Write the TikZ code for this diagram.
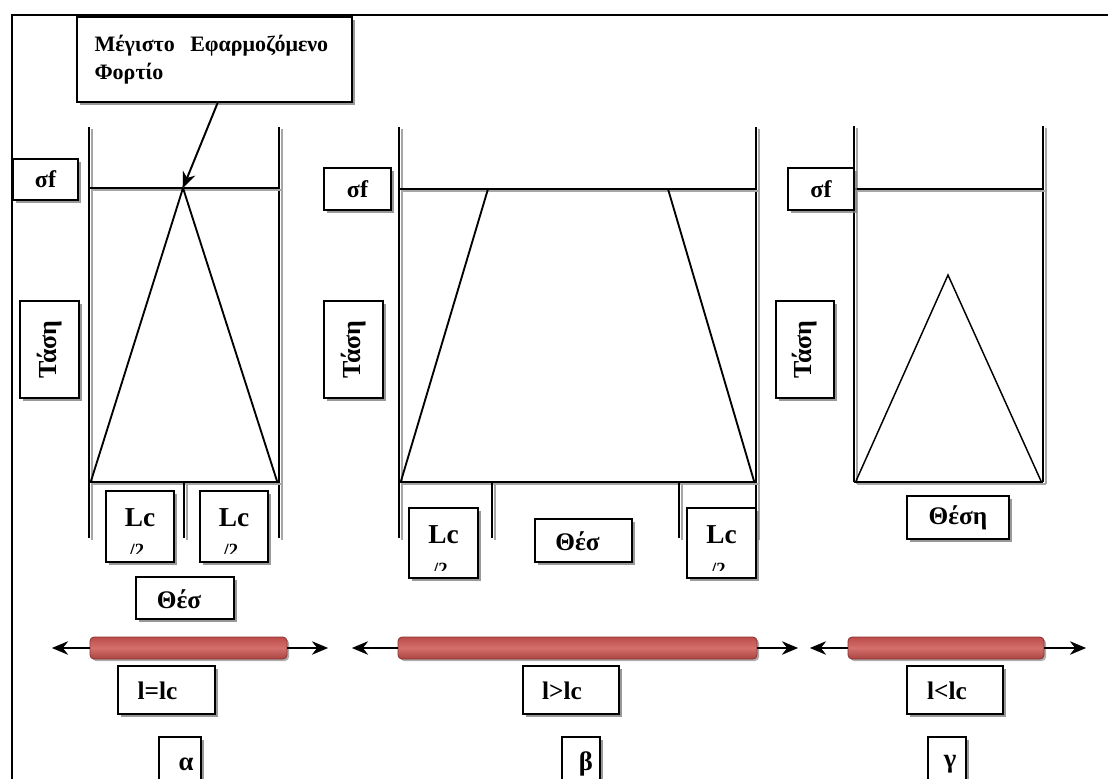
\documentclass[tikz,border=0pt]{standalone}
\usepackage{fontspec}
\setmainfont{Liberation Serif}
\usetikzlibrary{shadows,arrows.meta,calc}
\newcommand{\pxu}[1]{#1*0.75pt}
\definecolor{rodD}{RGB}{188,76,73}
\definecolor{rodL}{RGB}{212,112,108}
\definecolor{rodB}{RGB}{140,52,50}
\tikzset{
  box/.style={draw, line width=0.9pt, fill=white, inner sep=0pt,
    font=\bfseries\fontsize{18}{20}\selectfont,
    drop shadow={shadow xshift=2pt, shadow yshift=-2pt, fill=black!50, opacity=0.8}},
  fl/.style={line width=1.4pt},
  shl/.style={draw=black!35, line width=1.4pt, xshift=2.2pt, yshift=-1.6pt},
  tri/.style={line width=1.4pt, line join=miter},
  rod/.style={draw=rodB, line width=0.6pt, rounded corners=3pt, inner sep=0pt,
    top color=rodD, bottom color=rodD!90!black, middle color=rodL,
    drop shadow={shadow xshift=1.5pt, shadow yshift=-1.5pt, fill=black!45, opacity=0.7}},
  arr/.style={line width=1.4pt, -{Stealth[length=12pt,width=10pt]}},
  arrsh/.style={draw=black!30, line width=1.4pt, -{Stealth[length=12pt,width=10pt]}, xshift=1.5pt, yshift=-1.2pt},
  lcfont/.style={font=\bfseries\fontsize{20.5}{22}\selectfont},
  halffont/.style={font=\bfseries\fontsize{14}{16}\selectfont},
  big/.style={font=\bfseries\fontsize{19}{21}\selectfont},
  vert/.style={font=\bfseries\fontsize{19.5}{21}\selectfont, rotate=90},
  greek/.style={font=\bfseries\fontsize{20}{22}\selectfont},
}
\newcommand{\fline}[2]{\draw[shl] #1 -- #2; \draw[fl] #1 -- #2;}
\newcommand{\farrow}[2]{\draw[arrsh] #1 -- #2; \draw[arr] #1 -- #2;}
\begin{document}
\begin{tikzpicture}[x=0.75pt, y=-0.75pt]
\useasboundingbox (0,0) rectangle (1108,779);
% frame
\draw[line width=0.9pt] (12,779) -- (12,15) -- (1108,15);

% ---------- panel alpha ----------
\fline{(89,127)}{(89,538)}
\fline{(279,127)}{(279,538)}
\fline{(89,188)}{(279,188)}
\fline{(89,482)}{(279,482)}
\fline{(184,482)}{(184,538)}
\draw[tri] (91,481) -- (183,188) -- (277,481);

\node[box, minimum width=\pxu{275}, minimum height=\pxu{85}, text width=\pxu{240}, align=left,
  font=\bfseries\fontsize{16.5}{21}\selectfont] (maxload) at (214.5,59.5)
  {Μέγιστο\hspace{0.7em}Εφαρμοζόμενο\\Φορτίο};
\coordinate (apexA) at (183,188);
\coordinate (loadstart) at (218,102);
\farrow{(loadstart)}{(apexA)}

\node[box, minimum width=\pxu{65}, minimum height=\pxu{41}] (sfA) at (45.5,179.5) {σf};
\node[box, minimum width=\pxu{59}, minimum height=\pxu{97}] (tA) at (49.5,349.5) {};
\node[vert] at (tA.center) {Τάση};

\node[box, minimum width=\pxu{68}, minimum height=\pxu{71}] (lcA1) at (140,526.5) {};
\node[box, minimum width=\pxu{68}, minimum height=\pxu{71}] (lcA2) at (234,526.5) {};
\foreach \b in {lcA1,lcA2}{
  \begin{scope}
    \clip ($(\b.south west)+(1,-9)$) rectangle ($(\b.north east)+(-1,1)$);
    \node[lcfont] at ($(\b.north)+(0,27)$) {Lc};
    \node[halffont, anchor=north] at ($(\b.north)+(-3,49)$) {/2};
  \end{scope}
}
\node[box, minimum width=\pxu{98}, minimum height=\pxu{42}] (posA) at (185,598) {};
\node[big] at ($(posA.center)+(-6,1)$) {Θέσ};

\node[rod, minimum width=\pxu{197}, minimum height=\pxu{22}] (rodA) at (188.5,648) {};
\coordinate (aL) at (52,648);
\coordinate (aR) at (328,648);
\farrow{(rodA.west)}{(aL)}
\farrow{(rodA.east)}{(aR)}
\node[box, minimum width=\pxu{97}, minimum height=\pxu{48}] (eqA) at (166.5,690) {};
\node[big] at ($(eqA.center)+(-9,1)$) {l=lc};
\node[box, minimum width=\pxu{42}, minimum height=\pxu{60}] (labA) at (180,767) {};
\node[greek] at ($(labA.center)+(6,-3)$) {α};

% ---------- panel beta ----------
\fline{(399,127)}{(399,538)}
\fline{(756,127)}{(756,538)}
\fline{(399,189)}{(756,189)}
\fline{(399,482)}{(756,482)}
\fline{(492,482)}{(492,538)}
\fline{(679,482)}{(679,538)}
\draw[tri] (401,481) -- (488,189) -- (668,189) -- (754,481);

\node[box, minimum width=\pxu{67}, minimum height=\pxu{42}] (sfB) at (357.5,189) {σf};
\node[box, minimum width=\pxu{59}, minimum height=\pxu{97}] (tB) at (353.5,349.5) {};
\node[vert] at (tB.center) {Τάση};

\node[box, minimum width=\pxu{69}, minimum height=\pxu{70}] (lcB1) at (443.5,543) {};
\node[box, minimum width=\pxu{69}, minimum height=\pxu{70}] (lcB2) at (721.5,543) {};
\foreach \b in {lcB1,lcB2}{
  \begin{scope}
    \clip ($(\b.south west)+(1,-8)$) rectangle ($(\b.north east)+(-1,1)$);
    \node[lcfont] at ($(\b.north)+(0,27)$) {Lc};
    \node[halffont, anchor=north] at ($(\b.north)+(-3,51)$) {/2};
  \end{scope}
}
\node[box, minimum width=\pxu{97}, minimum height=\pxu{43}] (posB) at (583.5,540.5) {};
\node[big] at ($(posB.center)+(-6,1)$) {Θέσ};

\node[rod, minimum width=\pxu{359}, minimum height=\pxu{22}] (rodB) at (577.5,648) {};
\coordinate (bL) at (352,648);
\coordinate (bR) at (798,648);
\farrow{(rodB.west)}{(bL)}
\farrow{(rodB.east)}{(bR)}
\node[box, minimum width=\pxu{96}, minimum height=\pxu{48}] (eqB) at (571,690) {};
\node[big] at ($(eqB.center)+(-9,1)$) {l>lc};
\node[box, minimum width=\pxu{38}, minimum height=\pxu{60}] (labB) at (581,767) {};
\node[greek] at ($(labB.center)+(5,-3)$) {β};

% ---------- panel gamma ----------
\fline{(854,126)}{(854,482)}
\fline{(1043,126)}{(1043,482)}
\fline{(854,189)}{(1043,189)}
\fline{(854,482)}{(1043,482)}
\draw[line width=1.1pt] (856,481) -- (948,275) -- (1041,481);

\node[box, minimum width=\pxu{66}, minimum height=\pxu{42}] (sfC) at (821,189) {σf};
\node[box, minimum width=\pxu{58}, minimum height=\pxu{97}] (tC) at (805,349.5) {};
\node[vert] at (tC.center) {Τάση};

\node[box, minimum width=\pxu{102}, minimum height=\pxu{43}, big] (posC) at (958,517.5) {Θέση};

\node[rod, minimum width=\pxu{196}, minimum height=\pxu{22}] (rodC) at (946,648) {};
\coordinate (cL) at (810,648);
\coordinate (cR) at (1086,648);
\farrow{(rodC.west)}{(cL)}
\farrow{(rodC.east)}{(cR)}
\node[box, minimum width=\pxu{96}, minimum height=\pxu{48}] (eqC) at (955,690) {};
\node[big] at ($(eqC.center)+(-8,1)$) {l<lc};
\node[box, minimum width=\pxu{38}, minimum height=\pxu{60}] (labC) at (947,767) {};
\node[greek] at ($(labC.center)+(3,-3)$) {γ};
\end{tikzpicture}
\end{document}
